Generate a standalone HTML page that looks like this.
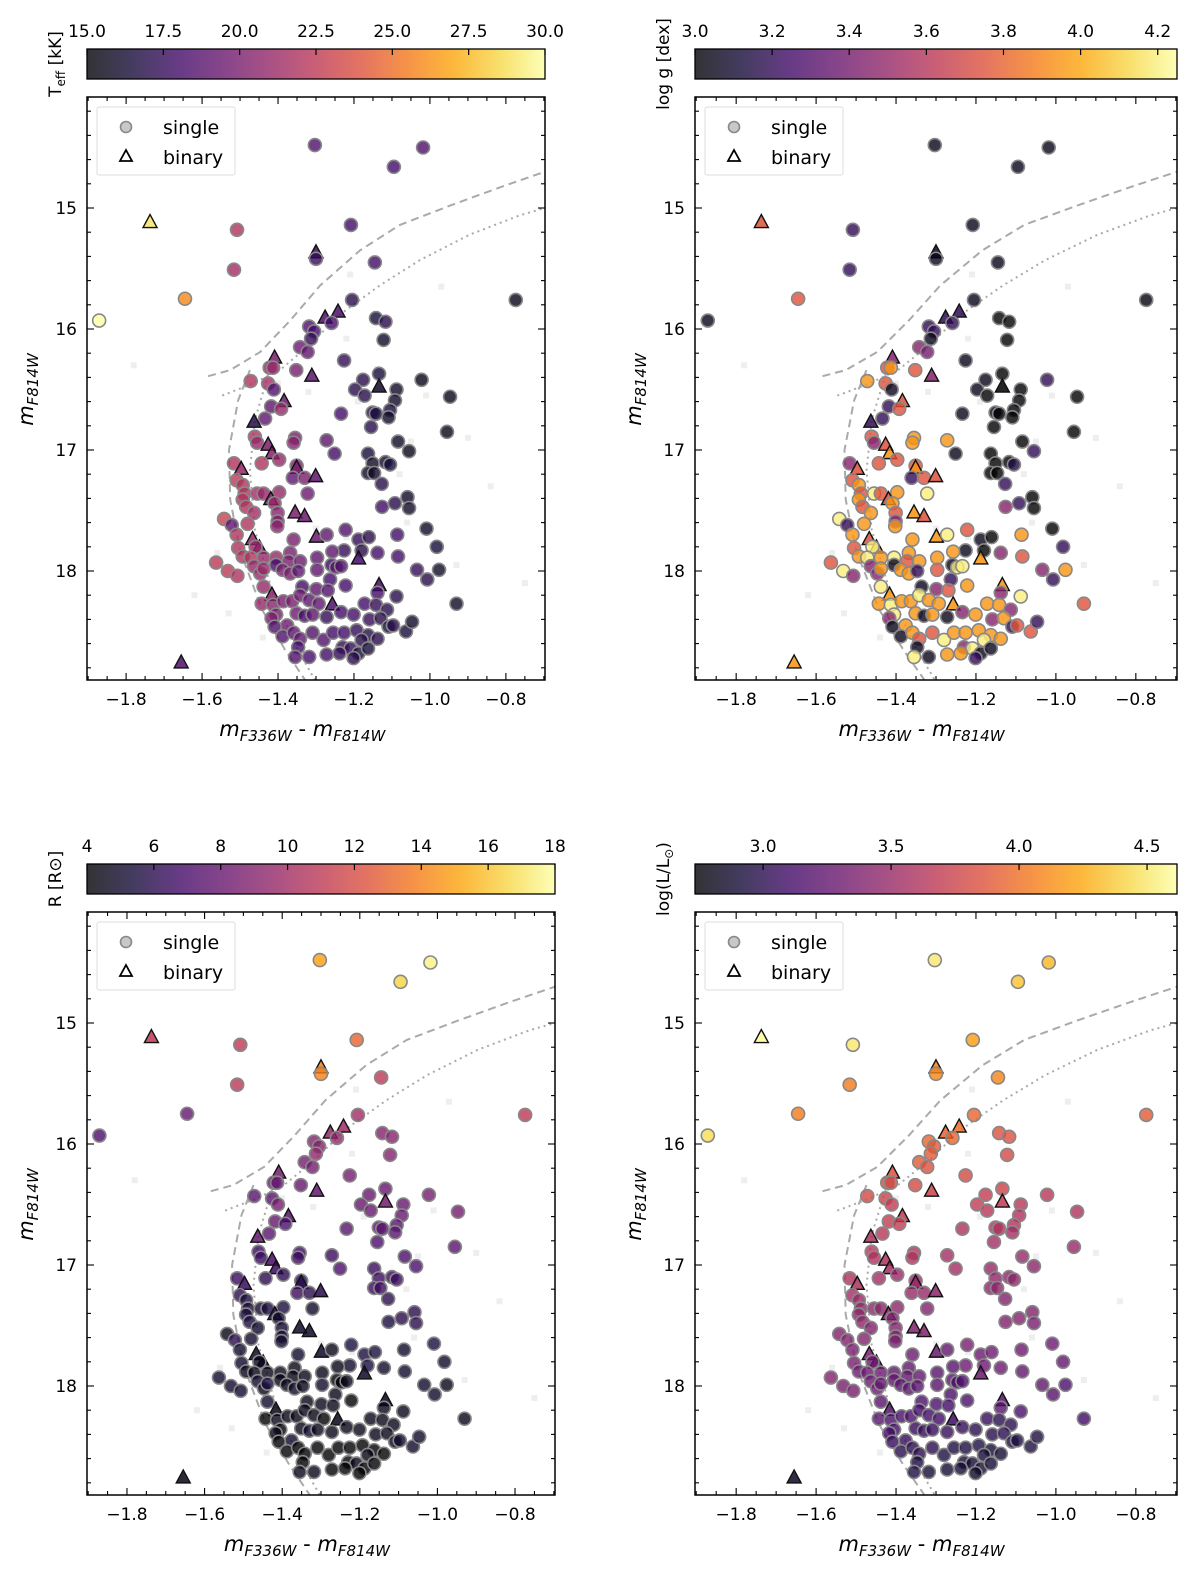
<!DOCTYPE html>
<html><head><meta charset="utf-8"><style>
body{margin:0;background:#fff}
svg{display:block;font-family:"DejaVu Sans","Liberation Sans",sans-serif}
</style></head><body>
<svg id="fig" width="1200" height="1569" viewBox="0 0 1200 1569" xmlns="http://www.w3.org/2000/svg"></svg>
<script>
// ---- data ----
const starColor=[-1.303,-1.095,-1.018,-1.737,-1.508,-1.208,-1.300,-1.300,-1.516,-1.145,-1.645,-0.774,-1.871,-1.655,
-1.318,-1.305,-1.313,-1.342,-1.322,-1.276,-1.242,-1.259,-1.205,-1.142,-1.117,-1.122,-1.226,-1.134,-1.134,-1.176,-1.197,-1.172,-1.088,-1.092,-1.105,-1.151,-1.142,-1.109,-1.234,-1.155,-1.022,-0.947,-0.955,-1.084,-1.055,-1.251,-1.163,-1.151,-1.117,-1.105,-1.163,-1.147,-1.127,-1.059,-1.055,-1.092,-1.126,-1.009,-0.982,-1.034,-1.007,-0.976,-0.930,-1.086,-1.084,-1.138,-1.188,-1.161,-1.180,-1.226,-1.222,-1.188,-1.134,-1.138,-1.088,
-1.409,-1.422,-1.413,-1.352,-1.311,-1.472,-1.426,-1.411,-1.384,-1.418,-1.392,-1.434,-1.463,-1.461,-1.455,-1.426,-1.416,-1.443,-1.397,-1.516,-1.497,-1.355,-1.359,-1.272,-1.351,-1.351,-1.361,-1.330,-1.301,-1.509,-1.493,-1.488,-1.455,-1.438,-1.397,-1.419,-1.409,-1.322,-1.493,-1.484,-1.463,-1.401,-1.401,-1.402,-1.355,-1.330,-1.542,-1.522,-1.480,-1.509,-1.467,-1.449,-1.505,-1.459,-1.438,-1.493,-1.472,-1.405,-1.359,-1.299,-1.272,-1.368,-1.372,-1.342,-1.257,-1.297,-1.563,-1.532,-1.507,-1.463,-1.447,-1.438,-1.405,-1.388,-1.368,-1.347,-1.297,-1.259,-1.247,-1.234,-1.263,-1.222,-1.438,-1.336,-1.299,-1.269,-1.416,-1.443,-1.413,-1.386,-1.363,-1.342,-1.318,-1.293,-1.257,-1.234,-1.405,-1.417,-1.376,-1.351,-1.330,-1.309,-1.272,-1.201,-1.172,-1.142,-1.113,-1.159,-1.130,-1.109,-1.097,-1.063,-1.047,-1.409,-1.388,-1.359,-1.342,-1.309,-1.280,-1.255,-1.226,-1.193,-1.163,-1.138,-1.230,-1.209,-1.180,-1.347,-1.318,-1.355,-1.188,-1.163,-1.272,-1.238,-1.201];
const starMag=[14.48,14.66,14.50,15.12,15.18,15.14,15.37,15.42,15.51,15.45,15.75,15.76,15.93,18.76,
15.98,16.02,16.08,16.15,16.19,15.91,15.86,15.95,15.76,15.91,15.94,16.09,16.26,16.37,16.48,16.42,16.50,16.55,16.50,16.59,16.67,16.69,16.70,16.73,16.70,16.81,16.42,16.56,16.85,16.93,17.01,17.03,17.03,17.11,17.10,17.12,17.19,17.19,17.28,17.39,17.48,17.44,17.47,17.65,17.80,17.99,18.07,17.99,18.27,17.70,17.88,17.85,17.74,17.72,17.83,17.83,17.66,17.90,18.12,18.18,18.21,
16.24,16.32,16.32,16.34,16.39,16.43,16.45,16.50,16.60,16.64,16.66,16.74,16.77,16.89,16.94,16.96,17.03,17.11,17.08,17.11,17.16,16.90,16.94,16.92,17.13,17.15,17.23,17.23,17.22,17.25,17.29,17.36,17.36,17.36,17.35,17.41,17.44,17.36,17.41,17.47,17.52,17.52,17.59,17.63,17.52,17.55,17.57,17.62,17.61,17.70,17.74,17.81,17.81,17.80,17.89,17.88,17.89,17.89,17.74,17.72,17.70,17.85,17.92,17.92,17.84,17.89,17.93,18.00,18.04,17.96,18.02,17.98,17.95,17.99,18.02,18.00,17.99,17.95,17.97,17.96,18.07,18.12,18.13,18.13,18.15,18.16,18.20,18.27,18.28,18.25,18.25,18.20,18.24,18.27,18.28,18.34,18.36,18.39,18.45,18.35,18.37,18.36,18.38,18.36,18.27,18.28,18.32,18.40,18.39,18.46,18.45,18.50,18.42,18.46,18.54,18.51,18.56,18.51,18.57,18.51,18.51,18.49,18.53,18.56,18.63,18.64,18.57,18.63,18.71,18.71,18.68,18.64,18.69,18.68,18.72];
const starBinary=[0,0,0,1,0,0,1,0,0,0,0,0,0,1,
0,0,0,0,0,1,1,0,0,0,0,0,0,0,1,0,0,0,0,0,0,0,0,0,0,0,0,0,0,0,0,0,0,0,0,0,0,0,0,0,0,0,0,0,0,0,0,0,0,0,0,0,0,0,0,0,0,1,1,0,0,
1,0,0,0,1,0,0,0,1,0,0,0,1,0,0,1,1,0,0,0,1,0,0,0,0,1,0,0,1,0,0,0,0,0,0,1,0,0,0,0,0,0,0,0,1,1,0,0,0,0,1,1,0,0,0,0,0,0,0,1,0,0,0,0,0,0,0,0,0,0,0,0,0,0,0,0,0,0,0,0,0,0,0,0,0,0,1,0,0,0,0,0,0,0,1,0,0,0,0,0,0,0,0,0,0,0,0,0,0,0,0,0,0,0,0,0,0,0,0,0,0,0,0,0,0,0,0,0,0,0,0,0,0,0,0];
const teff=[18.5,18,18.5,29,22,18,17.5,17.5,21.5,18,26,15.5,30,18.5,
18.5,18,17.5,19.5,19,18.5,18.5,18,17,16.5,17,16,17.5,16.5,16,17,17,17,16,16,16.5,17,16.5,16,18,17,15.5,15.5,15.5,16,15.5,18,16.5,16,16,16.5,16,16,17,16,16,17,18,16,16.5,17.5,17,16,16,18,18,18,17.5,17,17,17.5,18.5,18,18,18,17,
20,21,21,20,19,22,21.5,18.5,19.5,19,21,19,17,22,21,20,20.5,22,21,22,21,20,20.5,19,20,20,19,20,19,22.5,22,22,21.5,21,21,20,21,19.5,22,22,21.5,20.5,20,20.5,20,19.5,23,19,22,22,21,20,22,21,21,22,22,21,20,19.5,19,20,20,19.5,19,19,22.5,22.5,22,21,21,21,18,20,20,19,19,17.5,19,18.5,18,18,21,18,19,18.5,20.5,21,20.5,20,20,19.5,19,19,18.5,18,20,20,19.5,19.5,18,19,17.5,18,18,17.5,17,17.5,17,16.5,17,16.5,16,18.5,18.5,19,19,18.5,18.5,18,18,17.5,17,17,17.5,17.5,17,18,18,18.5,16.5,16.5,18,17.5,17];
const logg=[3.05,3.05,3.05,3.75,3.2,3.05,3.05,3.05,3.2,3.05,3.75,3.02,3.05,3.95,
3.2,3.2,3.05,3.45,3.4,3.2,3.2,3.2,3.05,3,3,3,3.05,3,3,3.05,3.05,3,3,3,3,3.05,3,3,3.05,3,3.2,3,3,3,3.2,3.05,3,3,3,3.15,3,3,3.2,3,3,3.2,3.45,3,3.2,3.45,3.2,3.95,3.75,3.95,3.75,3.45,3.05,3,3,3.05,3.75,3.95,3.95,3.45,4.2,
3.45,3.75,3.95,3.75,3.45,3.95,3.75,3.05,3.75,3.2,3.75,3.2,3.2,3.75,3.45,3.75,3.95,3.75,3.75,3.45,3.75,3.95,3.95,3.95,3.75,3.95,3.2,3.75,3.75,3.75,3.95,3.75,4.2,3.75,3.95,3.75,3.95,4.2,3.95,3.75,3.95,3.75,3.45,3.95,3.95,3.75,4.2,3.2,3.95,3.95,3.75,3.95,3.75,4.2,3.95,3.95,4.2,4.2,3.95,3.95,4.2,3.95,3.75,3.95,3.95,3.95,3.75,4.2,3.45,3.45,3.45,3.95,3.05,3.95,3.95,3.2,3.75,3.05,4.2,4.2,3.2,3.95,4.2,3.05,3.45,3.75,3.95,3.95,4.2,3.95,3.95,4.2,3.95,3.95,3.95,3.45,4.2,3.45,3.95,3.95,3.05,3.95,3.05,3.95,3.95,3.95,3.45,3.45,3.95,3.2,3.75,3.75,3.2,3.05,3.05,3.95,3.75,3.75,4.2,3.95,3.95,3.95,3.95,3.95,3.45,4.2,4.2,3.05,3.05,4.2,3.05,3.05,3.95,3.95,3.2];
const radius=[15,16.5,17.5,11,11,13,14,14,11,11,8,11,7,4.5,
9,9,9.5,8.5,8.5,9.5,10,9.5,10,9,9,9,8.5,8,8.5,8,8,8,8,8,7.5,7.5,7.5,7.5,7.5,7,8.5,8.5,7.5,7,7,7,6.5,6.5,6.5,6.5,6.5,6.5,6,6,6,6,5.5,5.5,5,5,5,4.5,4.5,5,5,5,5.5,5.5,5.5,5,5.5,5,4.5,4.5,4.5,
8.5,8,8,8,8,7.5,7.5,8.5,7.5,8,7,7.5,8,6.5,6.5,7,6.5,6,6,6.5,6.5,6.5,6.5,6.5,6,6,6.5,6,6,6,5.5,5.5,5,5.5,5.5,5.5,5,5,5.5,5.5,5,5,5.5,5,5,5,4.5,6,5,5,5,5,5,4.5,4.5,4.5,4.5,4.5,5,5,4.5,4.5,4.5,4.5,4.5,4.5,5,5,5,5,4.5,5.5,4.5,4.5,5,4.5,5,4,4,4.5,4.5,4,5,4.5,4.5,4.5,4.5,4,4.5,4.5,4.5,4.5,4.5,4,4.5,4.5,4,4.5,5,4.5,5,4.5,4.5,4.5,4.5,4.5,4.5,4.5,4.5,4.5,5,5,5,4,4,4,4,4,4,4,4,4,4,4,4,4.5,4.5,4,4.5,4.5,4,4,4,4,4,4,4,4,4,4,4,4,4,4,4,4,4,4,4,4,4,4,4];
const logL=[4.5,4.35,4.3,4.6,4.5,4.2,4.1,4.1,4.05,4.1,4.05,3.9,4.45,2.85,
3.95,3.9,3.9,3.9,3.85,3.95,4.0,3.95,3.95,3.85,3.85,3.8,3.8,3.75,3.7,3.7,3.7,3.65,3.65,3.6,3.6,3.6,3.6,3.55,3.6,3.55,3.65,3.6,3.5,3.5,3.45,3.55,3.5,3.45,3.45,3.45,3.45,3.45,3.4,3.4,3.35,3.4,3.4,3.3,3.25,3.25,3.2,3.15,3.1,3.3,3.25,3.3,3.3,3.3,3.3,3.3,3.35,3.3,3.2,3.2,3.15,
3.85,3.8,3.8,3.8,3.75,3.8,3.75,3.7,3.7,3.7,3.7,3.65,3.6,3.65,3.6,3.6,3.55,3.55,3.5,3.6,3.6,3.6,3.6,3.55,3.5,3.5,3.5,3.5,3.45,3.55,3.5,3.5,3.45,3.45,3.45,3.45,3.4,3.4,3.45,3.45,3.4,3.4,3.4,3.35,3.4,3.4,3.4,3.4,3.4,3.35,3.35,3.3,3.35,3.3,3.3,3.3,3.3,3.25,3.3,3.3,3.25,3.25,3.25,3.25,3.2,3.2,3.4,3.35,3.35,3.3,3.3,3.25,3.25,3.2,3.2,3.2,3.2,3.2,3.15,3.15,3.15,3.15,3.2,3.15,3.15,3.1,3.2,3.2,3.15,3.15,3.15,3.1,3.1,3.1,3.1,3.05,3.1,3.1,3.05,3.05,3.05,3.05,3.05,3.0,3.05,3.0,3.0,3.0,3.0,2.95,2.95,2.95,2.95,3.05,3.0,3.0,3.0,3.0,2.95,2.95,2.95,2.95,2.9,2.9,2.9,2.9,2.9,2.95,2.9,2.95,2.9,2.9,2.9,2.9,2.85,2.9,2.9,2.9,2.9,2.9,2.9,2.9,2.9,2.9,2.9,2.9,2.9,2.9,2.9,2.9,2.9,2.9,2.9,2.9,2.9];
const bgColor=[-1.40,-1.32,-1.22,-1.19,-1.14,-1.05,-1.08,-1.01,-0.84,-0.75,-1.62,-1.53,-1.56,-1.30,-1.22,-1.06,-0.93,-1.78,-1.21,-0.97,-1.44,-1.35,-1.12,-0.90];
const bgMag=[16.45,16.52,16.08,16.60,16.33,16.93,17.20,16.55,17.30,18.10,18.20,18.35,17.85,17.65,17.72,17.60,17.95,16.30,15.55,15.65,18.55,18.30,17.45,16.90];
const dashUpC=[-1.584,-1.526,-1.447,-1.368,-1.289,-1.184,-1.079,-0.947,-0.816,-0.697];
const dashUpM=[16.39,16.34,16.19,15.93,15.64,15.35,15.14,14.98,14.83,14.70];
const dashLoC=[-1.474,-1.505,-1.529,-1.526,-1.500,-1.442,-1.382,-1.329];
const dashLoM=[16.34,16.59,17.00,17.41,17.83,18.32,18.65,18.90];
const dotUpC=[-1.547,-1.474,-1.395,-1.316,-1.237,-1.132,-1.026,-0.895,-0.763,-0.697];
const dotUpM=[16.55,16.46,16.34,16.13,15.88,15.64,15.43,15.22,15.06,15.00];
const dotLoC=[-1.426,-1.461,-1.474,-1.461,-1.416,-1.355,-1.303];
const dotLoM=[16.38,16.75,17.17,17.66,18.16,18.61,18.90];
const teffTicks=["15.0","17.5","20.0","22.5","25.0","27.5","30.0"];
const loggTicks=["3.0","3.2","3.4","3.6","3.8","4.0","4.2"];
const radiusTicks=["4","6","8","10","12","14","16","18"];
const logLTicks=["3.0","3.5","4.0","4.5"];
const xTickLabels=["−1.8","−1.6","−1.4","−1.2","−1.0","−0.8"];
const xTickVals=[-1.8,-1.6,-1.4,-1.2,-1.0,-0.8];
const yTickVals=[15,16,17,18];

// ---- rendering ----
const NS="http://www.w3.org/2000/svg";
const svg=document.getElementById('fig');
function mk(tag,attrs,parent){const e=document.createElementNS(NS,tag);for(const k in attrs)e.setAttribute(k,attrs[k]);(parent||svg).appendChild(e);return e;}
const stops=["#000004","#160b39","#420a68","#6a176e","#932667","#bc3754","#dd513a","#f37819","#fca50a","#f6d746","#fcffa4"];
function hx(h){return [1,3,5].map(i=>parseInt(h.substr(i,2),16));}
function cmap(t){if(!isFinite(t))t=0;t=Math.max(0,Math.min(1,t));const f=t*10,i=Math.min(9,Math.floor(f)),r=f-i;const a=hx(stops[i]),b=hx(stops[i+1]);return 'rgb('+a.map((v,k)=>Math.round(v+(b[k]-v)*r)).join(',')+')';}
const defs=mk('defs',{});
const panels=[
 {name:'teff',vals:teff,x0:87,x1:545,y0:97,y1:680,cy0:49,cy1:79,lo:15,hi:30,ticks:teffTicks,label:'teff'},
 {name:'logg',vals:logg,x0:695,x1:1177,y0:97,y1:680,cy0:49,cy1:79,lo:3.0,hi:4.25,ticks:loggTicks,label:'logg'},
 {name:'radius',vals:radius,x0:87,x1:555,y0:912,y1:1495,cy0:864,cy1:894,lo:4,hi:18,ticks:radiusTicks,label:'radius'},
 {name:'logl',vals:logL,x0:695,x1:1177,y0:912,y1:1495,cy0:864,cy1:894,lo:2.734,hi:4.617,ticks:logLTicks,label:'logl'}];
const XLO=-1.903,XHI=-0.697;
panels.forEach((p,pi)=>{
 const g=mk('g',{});
 
 
 const X=v=>p.x0+(v-XLO)/(XHI-XLO)*(p.x1-p.x0);
 const Y=m=>p.y0+111+(m-15)*121;
 const C=v=>(v-p.lo)/(p.hi-p.lo);
 const gid='grad'+pi;const lg=mk('linearGradient',{id:gid,x1:0,x2:1,y1:0,y2:0},defs);
 for(let i=0;i<=20;i++)mk('stop',{offset:i/20,'stop-color':cmap(i/20)},lg);
 const cb=mk('rect',{x:p.x0,y:p.cy0,width:p.x1-p.x0,height:p.cy1-p.cy0,fill:'url(#'+gid+')','fill-opacity':0.8,stroke:'#000','stroke-width':1.3},g);
 
 
 p.ticks.forEach(t=>{const v=parseFloat(t);const x=p.x0+C(v)*(p.x1-p.x0);
  mk('line',{x1:x,x2:x,y1:p.cy0,y2:p.cy0+6,stroke:'#000','stroke-width':1.2},g);
  const tx=mk('text',{x:x,y:p.cy0-12,'font-size':17,'text-anchor':'middle'},g);tx.textContent=t;
  
  });
 bgColor.forEach((c,i)=>{const r=mk('rect',{x:X(c)-3,y:Y(bgMag[i])-3,width:6,height:6,fill:'#eeeeee'},g);
  
  });
 function line(cs,ms,dash,nm){const d=cs.map((c,i)=>(i?'L':'M')+X(c).toFixed(1)+','+Y(ms[i]).toFixed(1)).join('');
  const l=mk('path',{d:d,fill:'none',stroke:'#aaaaaa','stroke-width':2,'stroke-dasharray':dash},g);
  
  }
 line(dashUpC,dashUpM,'8,5','dashed-track-upper');line(dashLoC,dashLoM,'8,5','dashed-track-lower');
 line(dotUpC,dotUpM,'2,4','dotted-track-upper');line(dotLoC,dotLoM,'2,4','dotted-track-lower');
 starColor.forEach((c,i)=>{const x=X(c),y=Y(starMag[i]),col=cmap(C(p.vals[i]));let e;
  if(starBinary[i]){e=mk('path',{d:`M${x},${y-8}L${x+7},${y+5}L${x-7},${y+5}Z`,fill:col,'fill-opacity':0.85,stroke:'#111','stroke-width':1.4},g);
   }
  else{e=mk('circle',{cx:x,cy:y,r:6.5,fill:col,'fill-opacity':0.8,stroke:'#888','stroke-width':1.6},g);
   }
  });
 mk('rect',{x:p.x0,y:p.y0,width:p.x1-p.x0,height:p.y1-p.y0,fill:'none',stroke:'#000','stroke-width':1.5},g);
 for(let v=-1.9;v<=-0.69;v+=0.05){const x=X(v);if(x<p.x0||x>p.x1)continue;const maj=Math.abs(Math.round(v*5)-v*5)<1e-6;const L=maj?7:4;
  mk('line',{x1:x,x2:x,y1:p.y1,y2:p.y1-L,stroke:'#000','stroke-width':1.1},g);mk('line',{x1:x,x2:x,y1:p.y0,y2:p.y0+L,stroke:'#000','stroke-width':1.1},g);}
 xTickVals.forEach((v,i)=>{const t=mk('text',{x:X(v),y:p.y1+25,'font-size':17,'text-anchor':'middle'},g);t.textContent=xTickLabels[i];
  
  });
 for(let m=14.2;m<=18.9;m+=0.2){const y=Y(m);if(y<p.y0||y>p.y1)continue;const maj=Math.abs(Math.round(m)-m)<1e-6;const L=maj?7:4;
  mk('line',{x1:p.x0,x2:p.x0+L,y1:y,y2:y,stroke:'#000','stroke-width':1.1},g);mk('line',{x1:p.x1,x2:p.x1-L,y1:y,y2:y,stroke:'#000','stroke-width':1.1},g);}
 yTickVals.forEach(v=>{const t=mk('text',{x:p.x0-10,y:Y(v)+6,'font-size':17,'text-anchor':'end'},g);t.textContent=v;
  
  });
 const xt=mk('text',{x:(p.x0+p.x1)/2-(p.x1-p.x0)*0.03,y:p.y1+56,'font-size':21,'text-anchor':'middle'},g);
 xt.innerHTML='<tspan font-style="italic">m</tspan><tspan font-size="15" font-style="italic" dy="5">F336W</tspan><tspan dy="-5"> - </tspan><tspan font-style="italic">m</tspan><tspan font-size="15" font-style="italic" dy="5">F814W</tspan>';
 
 
 const yx=p.x0-54,yy=Y(16.5);
 const yt=mk('text',{x:yx,y:yy,'font-size':21,'text-anchor':'middle',transform:`rotate(-90 ${yx} ${yy})`},g);
 yt.innerHTML='<tspan font-style="italic">m</tspan><tspan font-size="15" font-style="italic" dy="5">F814W</tspan>';
 
 
 const cx=p.x0-26,cyy=p.cy0+15;
 const ct=mk('text',{x:cx,y:cyy,'font-size':17,'text-anchor':'middle',transform:`rotate(-90 ${cx} ${cyy})`},g);
 const cl={teff:'T<tspan font-size="12" dy="4">eff</tspan><tspan dy="-4"> [kK]</tspan>',logg:'log g [dex]',radius:'R [R<tspan>⊙</tspan>]',logl:'log(L/L<tspan font-size="12" dy="4">⊙</tspan><tspan dy="-4">)</tspan>'};
 ct.innerHTML=cl[p.label];
 
 
 const lgd=mk('g',{},g);
 
 
 mk('rect',{x:p.x0+10,y:p.y0+10,width:138,height:68,fill:'#fff',stroke:'#ddd','stroke-width':1,rx:2},lgd);
 mk('circle',{cx:p.x0+39,cy:p.y0+30,r:5.5,fill:'#c8c8c8',stroke:'#888','stroke-width':1.6},lgd);
 mk('path',{d:`M${p.x0+39},${p.y0+53}L${p.x0+45},${p.y0+64}L${p.x0+33},${p.y0+64}Z`,fill:'#fff',stroke:'#000','stroke-width':1.8},lgd);
 const t1=mk('text',{x:p.x0+76,y:p.y0+37,'font-size':19},lgd);t1.textContent='single';
 
 
 const t2=mk('text',{x:p.x0+76,y:p.y0+67,'font-size':19},lgd);t2.textContent='binary';
 
 
});
</script>
</body></html>
